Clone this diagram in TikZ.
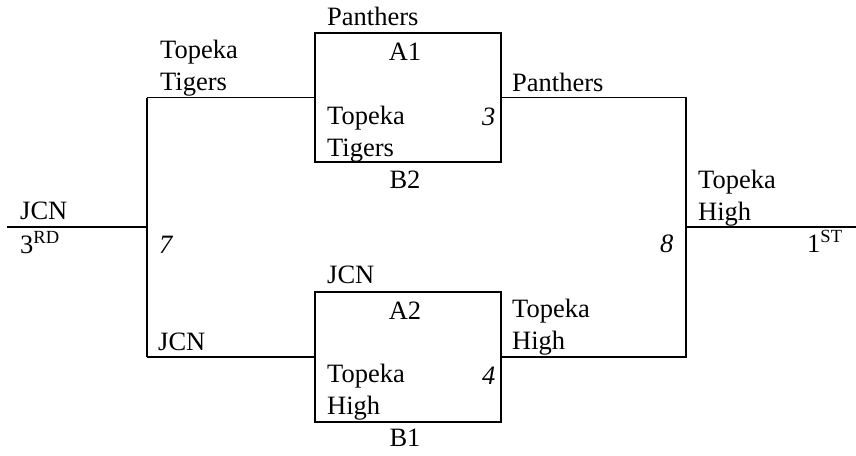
\documentclass[tikz,border=0pt]{standalone}
\usepackage{fontspec}
\setmainfont{Liberation Serif}

\tikzstyle{team}=[inner sep=0pt, anchor=base west, align=left, font=\fontsize{26.5}{32}\selectfont]
\tikzstyle{slot}=[inner sep=0pt, anchor=base, font=\fontsize{26.5}{32}\selectfont]
\tikzstyle{score}=[inner sep=0pt, anchor=base west, font=\fontsize{26.5}{32}\selectfont\itshape]
\tikzstyle{match}=[draw, line width=1.2pt, minimum width=186pt, inner sep=0pt]
\tikzstyle{bracket}=[line width=1.2pt]

\begin{document}
\begin{tikzpicture}[x=1pt, y=-1pt]
      \useasboundingbox (0,0) rectangle (856,455);

      % games
      \node (match-1) at (408, 97.5) [match, minimum height=129pt] {};
      \node (match-2) at (408, 357)  [match, minimum height=130pt] {};

      % bracket corners
      \coordinate (start-left)    at (7, 227);
      \coordinate (bracket-left)  at (147, 227);
      \coordinate (bracket-tl)    at (147, 97.5);
      \coordinate (bracket-bl)    at (147, 357);
      \coordinate (bracket-tr)    at (686, 97.5);
      \coordinate (bracket-br)    at (686, 357);
      \coordinate (bracket-right) at (686, 227);
      \coordinate (finish-right)  at (856, 227);

      \draw[bracket] (start-left) -- (bracket-left);
      \draw[bracket] (bracket-tl) -- (bracket-bl);
      \draw[bracket] (bracket-tl) -- (match-1.west);
      \draw[bracket] (bracket-bl) -- (match-2.west);
      \draw[bracket] (match-1.east) -- (bracket-tr) -- (bracket-br) -- (match-2.east);
      \draw[bracket] (bracket-right) -- (finish-right);

      % left side (two-line names sit on their last line)
      \node (team-jcn3)   at (20, 219)  [team] {JCN};
      \node (place-3)     at (20, 253)  [team] {3\textsuperscript{RD}};
      \node (score-7)     at (159, 253) [score] {7};
      \node (team-tig)    at (160, 90)  [team] {Topeka\\Tigers};
      \node (team-jcn)    at (158, 350) [team] {JCN};

      % game one
      \node (team-pan)    at (327, 25)  [team] {Panthers};
      \node (slot-a1)     at (405, 60)  [slot] {A1};
      \node (team-tig2)   at (327, 156) [team] {Topeka\\Tigers};
      \node (score-3)     at (482, 125) [score] {3};
      \node (slot-b2)     at (405, 188) [slot] {B2};

      % game two
      \node (team-jcn2)   at (327, 283) [team] {JCN};
      \node (slot-a2)     at (405, 319) [slot] {A2};
      \node (team-high2)  at (327, 414) [team] {Topeka\\High};
      \node (score-4)     at (482, 384) [score] {4};
      \node (slot-b1)     at (405, 446) [slot] {B1};

      % right side
      \node (team-pan2)   at (512, 91)  [team] {Panthers};
      \node (team-high)   at (512, 349) [team] {Topeka\\High};
      \node (score-8)     at (660, 252) [score] {8};
      \node (team-high3)  at (698, 220) [team] {Topeka\\High};
      \node (place-1)     at (807, 252) [team] {1\textsuperscript{ST}};
\end{tikzpicture}
\end{document}
